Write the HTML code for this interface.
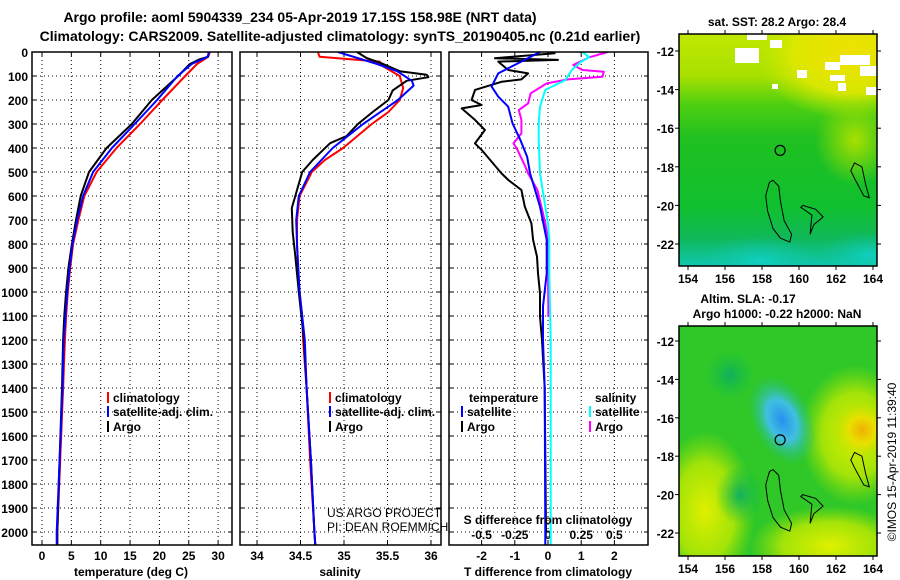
<!DOCTYPE html>
<html><head><meta charset="utf-8">
<style>
html,body{margin:0;padding:0;background:#fff;}
svg{display:block;font-family:"Liberation Sans",sans-serif;}
.b{font-weight:bold;font-size:12px;}
</style></head>
<body>
<svg id="c" width="900" height="580" viewBox="0 0 900 580">
<defs>
<linearGradient id="sstg" x1="0" y1="0" x2="0" y2="1">
<stop offset="0" stop-color="#c0e800"/><stop offset="0.18" stop-color="#a8e000"/><stop offset="0.3" stop-color="#50d010"/><stop offset="0.45" stop-color="#20c020"/><stop offset="0.75" stop-color="#10c030"/><stop offset="0.88" stop-color="#10b858"/><stop offset="1" stop-color="#10c8b0"/>
</linearGradient>
<radialGradient id="sstY" cx="0.5" cy="0.5" r="0.5"><stop offset="0" stop-color="#f0e000"/><stop offset="0.6" stop-color="#e0e800" stop-opacity="0.9"/><stop offset="1" stop-color="#c0e800" stop-opacity="0"/></radialGradient>
<radialGradient id="sstL" cx="0.5" cy="0.5" r="0.5"><stop offset="0" stop-color="#a8e000"/><stop offset="1" stop-color="#a8e000" stop-opacity="0"/></radialGradient>
<radialGradient id="sstT" cx="0.5" cy="0.5" r="0.5"><stop offset="0" stop-color="#10d0c0"/><stop offset="1" stop-color="#10c0a0" stop-opacity="0"/></radialGradient>
<radialGradient id="slaB" cx="0.5" cy="0.5" r="0.5"><stop offset="0" stop-color="#2890f0"/><stop offset="0.45" stop-color="#40c0e0"/><stop offset="1" stop-color="#20c070" stop-opacity="0"/></radialGradient>
<radialGradient id="slaY" cx="0.5" cy="0.5" r="0.5"><stop offset="0" stop-color="#f0b000"/><stop offset="0.45" stop-color="#e8e000"/><stop offset="1" stop-color="#b0e000" stop-opacity="0"/></radialGradient>
<radialGradient id="slaYG" cx="0.5" cy="0.5" r="0.5"><stop offset="0" stop-color="#e0f000"/><stop offset="0.6" stop-color="#c0ea00" stop-opacity="0.8"/><stop offset="1" stop-color="#a0e000" stop-opacity="0"/></radialGradient>
<radialGradient id="slaG" cx="0.5" cy="0.5" r="0.5"><stop offset="0" stop-color="#10b060"/><stop offset="1" stop-color="#10c040" stop-opacity="0"/></radialGradient>
</defs>
<g id="root"></g>
</svg>
<script>
// ---- data ----
const depthTicks=[0,100,200,300,400,500,600,700,800,900,1000,1100,1200,1300,1400,1500,1600,1700,1800,1900,2000];
const tempTicks=[0,5,10,15,20,25,30];
const salTicks=[34,34.5,35,35.5,36];
const salTickLabels=["34","34.5","35","35.5","36"];
const tdTicks=[-2,-1,0,1,2];
const sdTickLabels=["-0.5","-0.25","0","0.25","0.5"];
const sdTicks=[-0.5,-0.25,0,0.25,0.5];

const tArgoDepth=[0,20,30,50,100,200,300,400,500,600,700,800,900,1000,1100,1200,1400,1700,2000,2055];
const tArgo=[28.4,28.3,26.9,25.2,23.2,18.7,15.3,11.0,8.0,6.6,5.8,5.1,4.5,4.1,3.8,3.6,3.4,3.0,2.6,2.6];
const tClimDepth=[0,20,50,100,200,300,400,500,600,700,800,900,1000,1100,1200,1400,1700,2000,2055];
const tClim=[28.6,28.3,26.4,24.4,20.5,16.7,12.7,9.3,7.2,6.2,5.3,4.8,4.4,4.1,3.9,3.6,3.1,2.6,2.6];
const tSat=[28.5,28.2,25.5,23.1,19.6,15.8,11.9,8.7,7.0,6.0,5.2,4.7,4.3,4.0,3.7,3.5,3.0,2.5,2.5];

const sArgoDepth=[0,25,50,80,95,105,120,160,200,250,300,350,380,450,500,600,650,750,850,1000,1200,1400,1700,2000,2055];
const sArgo=[35.15,35.26,35.45,35.64,35.95,35.97,35.72,35.56,35.51,35.33,35.16,35.03,34.84,34.64,34.52,34.44,34.40,34.41,34.44,34.48,34.54,34.57,34.62,34.66,34.67];
const sClimDepth=[0,20,40,60,100,150,200,250,300,400,450,500,600,700,800,900,1000,1100,1200,1400,1700,2000,2055];
const sClim=[34.70,34.72,35.41,35.45,35.64,35.68,35.64,35.51,35.32,34.99,34.78,34.63,34.49,34.46,34.46,34.47,34.49,34.52,34.53,34.57,34.61,34.66,34.67];
const sSatDepth=[0,50,80,120,140,200,300,400,500,600,700,800,1000,1200,1400,1700,2000,2055];
const sSat=[34.93,35.38,35.61,35.78,35.80,35.62,35.22,34.87,34.61,34.48,34.45,34.46,34.49,34.55,34.57,34.62,34.66,34.67];

const dArgoDepth=[0,5,26,33,40,75,89,114,124,158,200,221,235,283,325,381,408,506,533,575,644,714,783,853,922,1006,1103,1200,1400,2000];
const dTArgo=[0.2,0.2,-1.6,0.3,-1.5,-1.2,-0.6,-0.8,-1.4,-2.2,-2.3,-2.0,-2.6,-2.2,-1.9,-2.2,-2.0,-1.4,-1.2,-0.8,-0.7,-0.5,-0.45,-0.33,-0.3,-0.24,-0.24,-0.18,-0.1,-0.06];
const dSatDepth=[0,89,144,186,228,297,367,436,506,644,783,922,1061,1200,1400,2000,2055];
const dTSat=[-0.24,-1.5,-1.7,-1.5,-1.2,-1.07,-0.83,-0.63,-0.54,-0.24,-0.04,-0.04,-0.15,-0.15,-0.1,-0.08,-0.08];
const dSArgoDepth=[0,22,54,75,82,103,114,131,172,214,242,283,339,381,408,478,506,575,644,714,783,853,922,1061,1103];
const dSArgo=[0.45,0.31,0.19,0.26,0.42,0.41,0.15,-0.01,-0.13,-0.15,-0.22,-0.2,-0.2,-0.26,-0.23,-0.17,-0.15,-0.08,-0.05,-0.02,0,0,0,0.002,0.002];
const dSSatDepth=[0,22,40,75,117,158,228,297,367,506,644,714,783,922,1200,1600,2000,2055];
const dSSat=[0.26,0.31,0.25,0.18,0.13,-0.02,-0.06,-0.07,-0.07,-0.06,-0.02,0,0.01,0.01,0.02,0.02,0.02,0.02];

// ---- helpers ----
const NS="http://www.w3.org/2000/svg";
const root=document.getElementById('root');
function mk(tag,attrs,parent){const e=document.createElementNS(NS,tag);for(const k in attrs)e.setAttribute(k,attrs[k]);(parent||root).appendChild(e);return e;}
function txt(s,x,y,cls,anchor,parent){const t=mk('text',{x:x,y:y,class:cls||'b','text-anchor':anchor||'start'},parent);t.textContent=s;return t;}
const Y0=52,PY=0.24,TOP=52,BOT=545;
function yD(d){return Y0+d*PY;}

const panels=[
 {name:'temperature-panel',x0:32,x1:232,sx:v=>42+v*5.87},
 {name:'salinity-panel',x0:240,x1:441,sx:v=>257+(v-34)*87},
 {name:'difference-panel',x0:449,x1:648,sx:v=>548+v*33.2}
];
panels.forEach((p,i)=>{
 const g=mk('g',{});
 
 
 const cp=mk('clipPath',{id:'cp'+i},g);mk('rect',{x:p.x0,y:TOP,width:p.x1-p.x0,height:BOT-TOP},cp);
 p.g=g;
 depthTicks.forEach(d=>{
  const l=mk('line',{x1:p.x0,x2:p.x1,y1:yD(d),y2:yD(d),stroke:'#000','stroke-width':1,'stroke-dasharray':'1,3'},g);
  
  
  mk('line',{x1:p.x0,x2:p.x0+4,y1:yD(d),y2:yD(d),stroke:'#000'},g);
  mk('line',{x1:p.x1-4,x2:p.x1,y1:yD(d),y2:yD(d),stroke:'#000'},g);
 });
});
function vgrid(p,ticks,labels,ly){
 ticks.forEach((v,k)=>{const x=p.sx(v);
  const l=mk('line',{x1:x,x2:x,y1:TOP,y2:BOT,stroke:'#000','stroke-dasharray':'1,3'},p.g);
  
  
  mk('line',{x1:x,x2:x,y1:BOT-4,y2:BOT,stroke:'#000'},p.g);
  mk('line',{x1:x,x2:x,y1:TOP,y2:TOP+4,stroke:'#000'},p.g);
  if(labels){const t=txt(labels[k],x,ly,'b','middle',p.g);
   
   }
 });
}
vgrid(panels[0],tempTicks,tempTicks.map(String),560);
vgrid(panels[1],salTicks,salTickLabels,560);
vgrid(panels[2],tdTicks,tdTicks.map(String),560);
sdTicks.forEach((v,k)=>{const t=txt(sdTickLabels[k],panels[2].sx(v*4),539,'b','middle',panels[2].g);
 
 });
depthTicks.forEach(d=>{const t=txt(String(d),28,yD(d)+5,'b','end');
 
 });

function line(p,i,depths,vals,color,name,scale){
 const pts=depths.map((d,k)=>p.sx(vals[k]*(scale||1)).toFixed(1)+','+yD(d).toFixed(1)).join(' ');
 const pl=mk('polyline',{points:pts,fill:'none',stroke:color,'stroke-width':2,'clip-path':'url(#cp'+i+')','stroke-linejoin':'round'},p.g);
 
 
}
line(panels[0],0,tClimDepth,tClim,'#f00','temp-climatology-line');
line(panels[0],0,tArgoDepth,tArgo,'#000','temp-argo-line');
line(panels[0],0,tClimDepth,tSat,'#00f','temp-satellite-line');
line(panels[1],1,sClimDepth,sClim,'#f00','sal-climatology-line');
line(panels[1],1,sArgoDepth,sArgo,'#000','sal-argo-line');
line(panels[1],1,sSatDepth,sSat,'#00f','sal-satellite-line');
line(panels[2],2,dArgoDepth,dTArgo,'#000','tdiff-argo-line');
line(panels[2],2,dSArgoDepth,dSArgo,'#f0f','sdiff-argo-line',4);
line(panels[2],2,dSSatDepth,dSSat,'#0ff','sdiff-satellite-line',4);
line(panels[2],2,dSatDepth,dTSat,'#00f','tdiff-satellite-line');

panels.forEach(p=>{const r=mk('rect',{x:p.x0,y:TOP,width:p.x1-p.x0,height:BOT-TOP,fill:'none',stroke:'#000','stroke-width':1.5},p.g);
 
 });
</script>
<script>
function T(s,x,y,a,name,extra){const t=mk('text',Object.assign({x:x,y:y,class:'b','text-anchor':a},extra||{}));t.textContent=s;
 
 return t;}
T('Argo profile: aoml 5904339_234 05-Apr-2019 17.15S 158.98E (NRT data)',300,22,'middle','title-line-1',{style:'font-size:14px'});
T('Climatology: CARS2009. Satellite-adjusted climatology: synTS_20190405.nc (0.21d earlier)',340,41,'middle','title-line-2',{style:'font-size:14px'});
T('temperature (deg C)',131,576,'middle','temperature-axis-title');
T('salinity',340,576,'middle','salinity-axis-title');
T('T difference from climatology',548,576,'middle','tdiff-axis-title');
T('S difference from climatology',548,524,'middle','sdiff-axis-title');
function leg(x,y,color,label,name){const r=mk('rect',{x:x,y:y-10,width:2,height:11,fill:color});
 
 
 T(label,x+6,y,'start',name);}
leg(107,402,'#f00','climatology','legend-climatology');
leg(107,416,'#00f','satellite-adj. clim.','legend-satellite');
leg(107,431,'#000','Argo','legend-argo');
leg(329,402,'#f00','climatology','legend2-climatology');
leg(329,416,'#00f','satellite-adj. clim.','legend2-satellite');
leg(329,431,'#000','Argo','legend2-argo');
T('temperature',469,402,'start','legend3-temperature-heading');
leg(461,416,'#00f','satellite','legend3-t-satellite');
leg(461,431,'#000','Argo','legend3-t-argo');
T('salinity',595,402,'start','legend3-salinity-heading');
leg(589,416,'#0ff','satellite','legend3-s-satellite');
leg(589,431,'#f0f','Argo','legend3-s-argo');
T('US ARGO PROJECT',327,517,'start','credit-project',{style:'font-weight:normal;font-size:12px'});
T('PI: DEAN ROEMMICH',327,531,'start','credit-pi',{style:'font-weight:normal;font-size:12px'});

const mapLats=[-12,-14,-16,-18,-20,-22];
const mapLons=[154,156,158,160,162,164];
function map(top,bot,lat12,latPx,kind,name){
 const x0=679,x1=877;
 const lx=v=>688+(v-154)*18.5, ly=v=>lat12+(-12-v)*latPx;
 const g=mk('g',{});
 
 
 const id='mc'+kind;const cp=mk('clipPath',{id:id},g);mk('rect',{x:x0,y:top,width:x1-x0,height:bot-top},cp);
 const cg=mk('g',{'clip-path':'url(#'+id+')'},g);
 if(kind==='sst'){
  mk('rect',{x:x0,y:top,width:x1-x0,height:bot-top,fill:'url(#sstg)'},cg);
  mk('ellipse',{cx:850,cy:top+20,rx:95,ry:65,fill:'url(#sstY)'},cg);
  mk('ellipse',{cx:855,cy:140,rx:40,ry:45,fill:'url(#sstL)'},cg);
  mk('ellipse',{cx:760,cy:bot-5,rx:60,ry:25,fill:'url(#sstT)'},cg);
  mk('ellipse',{cx:870,cy:bot-10,rx:50,ry:25,fill:'url(#sstT)'},cg);
  [[747,34,20,6],[735,48,24,15],[770,40,12,8],[797,70,10,8],[840,55,30,10],[825,62,15,8],[860,66,20,10],[830,75,15,6],[866,87,11,8],[772,84,6,5],[838,83,8,8]].forEach(r=>mk('rect',{x:r[0],y:r[1],width:r[2],height:r[3],fill:'#fff'},cg));
 } else {
  mk('rect',{x:x0,y:top,width:x1-x0,height:bot-top,fill:'#30c828'},cg);
  mk('ellipse',{cx:705,cy:bot-45,rx:50,ry:80,fill:'url(#slaYG)'},cg);
  mk('ellipse',{cx:830,cy:bot-10,rx:80,ry:40,fill:'url(#slaYG)'},cg);
  mk('ellipse',{cx:855,cy:435,rx:55,ry:70,fill:'url(#slaYG)'},cg);
  mk('ellipse',{cx:862,cy:430,rx:30,ry:30,fill:'url(#slaY)'},cg);
  mk('ellipse',{cx:730,cy:375,rx:25,ry:25,fill:'url(#slaG)'},cg);
  mk('ellipse',{cx:740,cy:495,rx:25,ry:30,fill:'url(#slaG)'},cg);
  mk('ellipse',{cx:782,cy:420,rx:30,ry:48,fill:'url(#slaB)',transform:'rotate(-25 782 420)'},cg);
 }
 const ol=[[158.6,-18.7],[158.9,-19],[159.0,-19.8],[159.2,-20.8],[159.6,-21.5],[159.5,-21.9],[159,-21.7],[158.6,-21.2],[158.3,-20.3],[158.2,-19.5],[158.4,-18.8]];
 const ol2=[[163,-17.8],[163.4,-18],[163.6,-18.9],[163.8,-19.6],[163.5,-19.5],[163,-18.6],[162.8,-18.2]];
 const ol3=[[160.2,-20.0],[160.9,-20.2],[161.3,-20.6],[160.8,-21.0],[160.6,-21.5],[160.7,-20.5],[160.1,-20.1]];
 [ol,ol2,ol3].forEach(o=>{const p=mk('polygon',{points:o.map(q=>lx(q[0]).toFixed(1)+','+ly(q[1]).toFixed(1)).join(' '),fill:'none',stroke:'#000','stroke-width':1},cg);
  
  });
 const c=mk('circle',{cx:lx(158.98),cy:ly(-17.15),r:5,fill:'none',stroke:'#000','stroke-width':1.2},cg);
 
 
 mk('rect',{x:x0,y:top,width:x1-x0,height:bot-top,fill:'none',stroke:'#000','stroke-width':1.5},g);
 mapLats.forEach(v=>{mk('line',{x1:x0-4,x2:x0,y1:ly(v),y2:ly(v),stroke:'#000'},g);mk('line',{x1:x1,x2:x1+4,y1:ly(v),y2:ly(v),stroke:'#000'},g);
  const t=mk('text',{x:x0-5,y:ly(v)+5,class:'b','text-anchor':'end'},g);t.textContent=String(v);
  
  });
 mapLons.forEach(v=>{mk('line',{x1:lx(v),x2:lx(v),y1:bot,y2:bot+4,stroke:'#000'},g);mk('line',{x1:lx(v),x2:lx(v),y1:top-4,y2:top,stroke:'#000'},g);
  const t=mk('text',{x:lx(v),y:bot+17,class:'b','text-anchor':'middle'},g);t.textContent=String(v);
  
  });
}
map(34,266,51,19.3,'sst','sst-map');
map(326,556,341,19.2,'sla','sla-map');
T('sat. SST: 28.2 Argo: 28.4',777,26,'middle','sst-map-title');
T('Altim. SLA: -0.17',748,303,'middle','sla-map-title-1');
T('Argo h1000: -0.22 h2000: NaN',777,318,'middle','sla-map-title-2');
T('\u00a9IMOS 15-Apr-2019 11:39:40',896,462,'middle','timestamp',{transform:'rotate(-90 896 462)',style:'font-weight:normal;font-size:12px'});
</script>
</body></html>
